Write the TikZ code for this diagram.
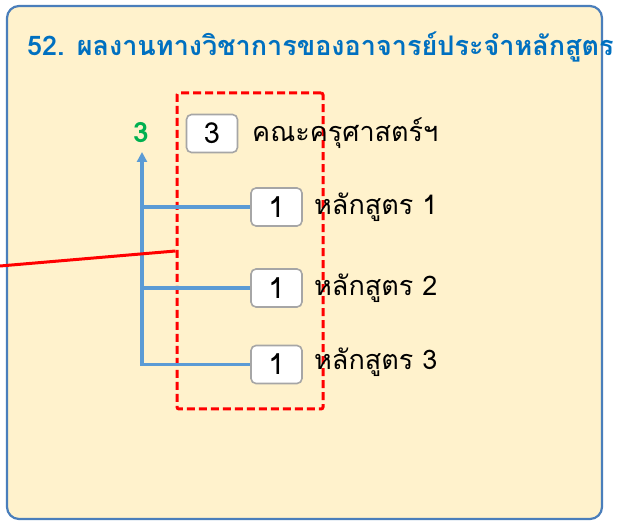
\documentclass[tikz,border=0pt]{standalone}
\usepackage{fontspec}
\setmainfont[Script=Thai]{Loma}
\usetikzlibrary{arrows.meta}
\definecolor{panelfill}{HTML}{FFF2CC}
\definecolor{panelline}{HTML}{4A7EBB}
\definecolor{titleblue}{HTML}{0070C0}
\definecolor{connblue}{HTML}{5B9BD5}
\definecolor{boxgray}{HTML}{A6A6A6}
\definecolor{sumgreen}{HTML}{00B050}
\tikzset{
  panel/.style={draw=panelline, line width=2.2pt, fill=panelfill, rounded corners=12pt},
  numbox/.style={draw=boxgray, line width=1.6pt, fill=white, rounded corners=5pt,
    minimum width=51pt, minimum height=38pt, inner sep=0pt, font=\fontsize{29}{32}\selectfont},
  lbl/.style={anchor=west, inner sep=0pt, font=\fontsize{27}{30}\selectfont},
  conn/.style={draw=connblue, line width=3.2pt},
  selbox/.style={draw=red, line width=3pt, dash pattern=on 8pt off 4pt, rounded corners=2pt,
    minimum width=146pt, minimum height=316pt, inner sep=0pt},
}
\begin{document}
\begin{tikzpicture}[x=1pt,y=-1pt]
\useasboundingbox (0,0) rectangle (627,521);
\draw[panel] (7,6) rectangle (602,519);
\node[anchor=west, inner sep=0pt, text=titleblue, font=\fontsize{27}{30}\selectfont\bfseries] (title) at (27,47) {52. ผลงานทางวิชาการของอาจารย์ประจำหลักสูตร};
\node[selbox] (sel) at (250,251) {};
\node[numbox] (b0) at (212,133.5) {3};
\node[numbox] (b1) at (276.5,207) {1};
\node[numbox] (b2) at (276.5,288) {1};
\node[numbox] (b3) at (276.5,364.5) {1};
\node[lbl] (l0) at (252,133) {คณะครุศาสตร์ฯ};
\node[lbl] (l1) at (314,207) {หลักสูตร 1};
\node[lbl] (l2) at (314,288) {หลักสูตร 2};
\node[lbl] (l3) at (314,362) {หลักสูตร 3};
\node[text=sumgreen, font=\fontsize{28}{30}\selectfont\bfseries, inner sep=0pt] (g3) at (141,133) {3};
\coordinate (tip) at (142,152);
\draw[conn, -{Triangle[length=10pt,width=10pt]}] (b3.west) -| (tip);
\draw[conn] (b1.west) -- (b1.west -| tip);
\draw[conn] (b2.west) -- (b2.west -| tip);
\coordinate (rs) at (0,266);
\draw[red, line width=3pt] (rs) -- (sel.west);
\end{tikzpicture}
\end{document}
